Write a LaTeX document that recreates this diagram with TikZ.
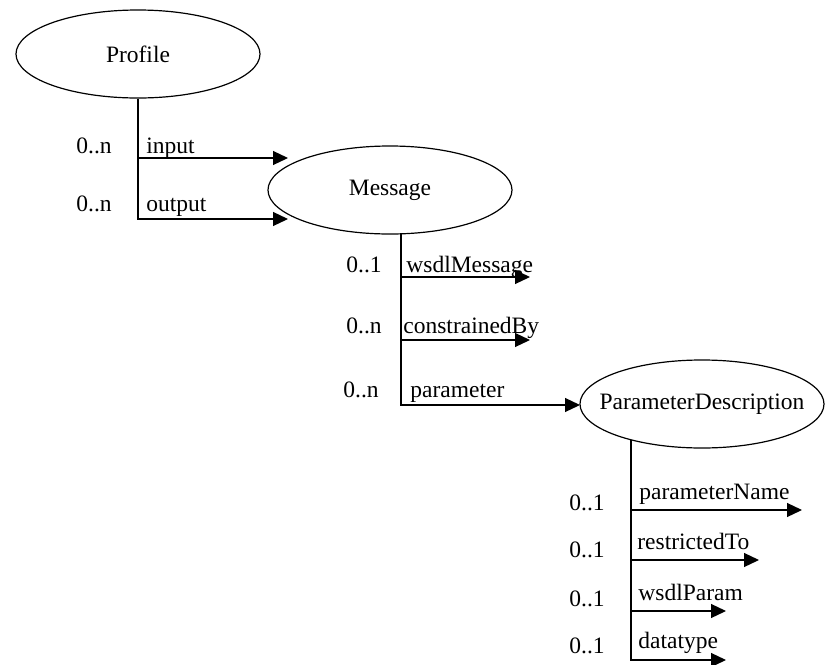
\documentclass[tikz,border=0pt]{standalone}
\usepackage{fontspec}
\setmainfont{Liberation Serif}
\usetikzlibrary{shapes.geometric,arrows.meta}

\begin{document}
\begin{tikzpicture}[x=0.5pt,y=-0.5pt,
	font=\fontsize{11.75}{14}\selectfont,
	cls/.style={ellipse,draw,line width=0.6pt,inner sep=0pt,minimum width=122pt,minimum height=44pt},
	rel/.style={line width=0.6pt,-{Triangle[length=7.5pt,width=7pt]}},
	lbl/.style={anchor=base west,inner sep=0pt}]

	\useasboundingbox (0,0) rectangle (827,665);

	\node[cls] (profile) at (138,54) {\makebox[0pt]{Profile}};
	\node[cls] (message) at (390,190) {\makebox[0pt]{Message}};
	\node[cls] (paramdesc) at (702,404) {\makebox[0pt]{ParameterDescription}};

	% Profile -> Message
	\coordinate (p-in) at (138,158);
	\coordinate (p-in-end) at (288,158);
	\coordinate (p-out-end) at (288,219);
	\draw[rel] (profile.south) |- (p-out-end);
	\draw[rel] (p-in) -- (p-in-end);

	\node[lbl] (p-in-card) at (76,153) {0..n};
	\node[lbl] (p-in-name) at (146,153) {input};
	\node[lbl] (p-out-card) at (76,211) {0..n};
	\node[lbl] (p-out-name) at (146,211) {output};

	% Message properties
	\coordinate (m-top) at (401,234);
	\coordinate (m-wsdl) at (401,277);
	\coordinate (m-wsdl-end) at (530,277);
	\coordinate (m-cons) at (401,340);
	\coordinate (m-cons-end) at (530,340);
	\coordinate (m-par-end) at (580,405);
	\draw[rel] (m-top) |- (m-par-end);
	\draw[rel] (m-wsdl) -- (m-wsdl-end);
	\draw[rel] (m-cons) -- (m-cons-end);

	\node[lbl] (m-wsdl-card) at (346,272) {0..1};
	\node[lbl] (m-wsdl-name) at (406,272) {wsdlMessage};
	\node[lbl] (m-cons-card) at (346,333) {0..n};
	\node[lbl] (m-cons-name) at (403,333) {constrainedBy};
	\node[lbl] (m-par-card) at (343,397) {0..n};
	\node[lbl] (m-par-name) at (410,397) {parameter};

	% ParameterDescription properties
	\coordinate (pd-top) at (631,440);
	\coordinate (pd-name) at (631,510);
	\coordinate (pd-name-end) at (802,510);
	\coordinate (pd-restr) at (631,560);
	\coordinate (pd-restr-end) at (759,560);
	\coordinate (pd-wsdl) at (631,611);
	\coordinate (pd-wsdl-end) at (726,611);
	\coordinate (pd-type-end) at (726,660);
	\draw[rel] (pd-top) |- (pd-type-end);
	\draw[rel] (pd-name) -- (pd-name-end);
	\draw[rel] (pd-restr) -- (pd-restr-end);
	\draw[rel] (pd-wsdl) -- (pd-wsdl-end);

	\node[lbl] (pd-name-card) at (569,510) {0..1};
	\node[lbl] (pd-name-name) at (639,499) {parameterName};
	\node[lbl] (pd-restr-card) at (569,557) {0..1};
	\node[lbl] (pd-restr-name) at (637,549) {restrictedTo};
	\node[lbl] (pd-wsdl-card) at (569,606) {0..1};
	\node[lbl] (pd-wsdl-name) at (638,600) {wsdlParam};
	\node[lbl] (pd-type-card) at (569,653) {0..1};
	\node[lbl] (pd-type-name) at (638,648) {datatype};

\end{tikzpicture}
\end{document}
